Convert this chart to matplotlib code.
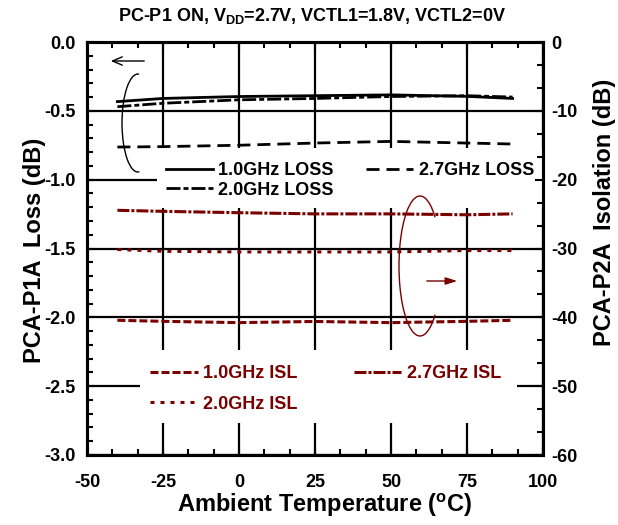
import matplotlib
matplotlib.use("Agg")
import matplotlib.pyplot as plt
from matplotlib.ticker import AutoMinorLocator, FormatStrFormatter
from matplotlib.patches import Rectangle, Arc

plt.rcParams['font.family'] = ['Liberation Sans', 'DejaVu Sans']
plt.rcParams['font.weight'] = 'bold'
plt.rcParams['mathtext.fontset'] = 'custom'
plt.rcParams['mathtext.rm'] = 'Liberation Sans:bold'
plt.rcParams['mathtext.bf'] = 'Liberation Sans:bold'
plt.rcParams['mathtext.it'] = 'Liberation Sans:bold'
plt.rcParams['mathtext.default'] = 'bf'
plt.rcParams['axes.unicode_minus'] = False
plt.rcParams['lines.scale_dashes'] = False

# ---- data ----
temps = [-40, -25, 0, 25, 50, 75, 90]
loss_1g0 = [-0.433, -0.41, -0.396, -0.39, -0.384, -0.395, -0.41]
loss_2g0 = [-0.47, -0.445, -0.42, -0.41, -0.396, -0.39, -0.40]
loss_2g7 = [-0.763, -0.76, -0.75, -0.734, -0.722, -0.734, -0.741]
isl_1g0 = [-40.43, -40.58, -40.77, -40.6, -40.77, -40.58, -40.43]
isl_2g0 = [-30.15, -30.4, -30.5, -30.5, -30.5, -30.3, -30.3]
isl_2g7 = [-24.45, -24.6, -24.8, -24.97, -24.97, -25.1, -24.97]

xticks = [-50, -25, 0, 25, 50, 75, 100]
yticks_left = [0.0, -0.5, -1.0, -1.5, -2.0, -2.5, -3.0]
yticks_right = [0, -10, -20, -30, -40, -50, -60]

RED = '#7a0000'
PX = 0.72  # px -> pt

W, H = 618, 525
fig = plt.figure(figsize=(W / 100, H / 100), dpi=100)
L, R, T, B = 87, 543, 42, 455
ax = fig.add_axes([L / W, 1 - B / H, (R - L) / W, (B - T) / H])
ax2 = ax.twinx()

ax.set_xlim(-50, 100)
ax.set_ylim(-3, 0)
ax2.set_ylim(-60, 0)

ax.set_axisbelow(True)
ax.set_xticks(xticks)
ax.set_yticks(yticks_left)
ax2.set_yticks(yticks_right)
ax.xaxis.set_minor_locator(AutoMinorLocator(3))
ax.yaxis.set_minor_locator(AutoMinorLocator(5))
ax2.yaxis.set_minor_locator(AutoMinorLocator(3))
ax.yaxis.set_major_formatter(FormatStrFormatter('%.1f'))
ax2.yaxis.set_major_formatter(FormatStrFormatter('%d'))

ax.grid(True, which='major', color='black', lw=1.6)
ax.tick_params(which='both', direction='in', top=True, right=False, width=1.5,
               labelsize=13)
ax.tick_params(which='major', length=6)
ax.tick_params(which='minor', length=4)
ax.tick_params(axis='x', pad=14)
ax.tick_params(axis='y', pad=8)
ax2.tick_params(which='both', direction='in', width=1.5, labelsize=13, pad=6)
ax2.tick_params(which='major', length=6)
ax2.tick_params(which='minor', length=4)
for a in (ax, ax2):
    for s in a.spines.values():
        s.set_linewidth(2.2)

# white boxes behind legends (hide grid)
ax.add_patch(Rectangle((0.1535, 0.598), 0.846, 0.145, transform=ax.transAxes,
                       facecolor='white', edgecolor='none', zorder=1))
ax.add_patch(Rectangle((0.116, 0.0775), 0.827, 0.177, transform=ax.transAxes,
                       facecolor='white', edgecolor='none', zorder=1))

# loss lines
l1, = ax.plot(temps, loss_1g0, color='black', lw=2.0, zorder=2,
              label='1.0GHz LOSS')
l2, = ax.plot(temps, loss_2g0, color='black', lw=2.0, zorder=2,
              dashes=[14 * PX, 3 * PX, 5 * PX, 3 * PX], label='2.0GHz LOSS')
l3, = ax.plot(temps, loss_2g7, color='black', lw=2.0, zorder=2,
              dashes=[13 * PX, 7 * PX], label='2.7GHz LOSS')

# isolation lines
i1, = ax2.plot(temps, isl_1g0, color=RED, lw=2.2,
               dashes=[8 * PX, 3 * PX], label='1.0GHz ISL')
i2, = ax2.plot(temps, isl_2g0, color=RED, lw=2.2,
               dashes=[4 * PX, 6 * PX], label='2.0GHz ISL')
i3, = ax2.plot(temps, isl_2g7, color=RED, lw=2.2,
               dashes=[12 * PX, 2 * PX, 3 * PX, 2 * PX], label='2.7GHz ISL')

leg1 = ax.legend(handles=[l1, l2, l3], ncol=2, frameon=False, fontsize=13,
                 loc='upper left', bbox_to_anchor=(166 / W, 1 - 162 / H),
                 bbox_transform=fig.transFigure, borderpad=0, borderaxespad=0,
                 handlelength=2.6, handletextpad=0.3, columnspacing=1.8,
                 labelspacing=0.15)
leg1.set_zorder(5)
leg2 = ax2.legend(handles=[i1, i2, i3], ncol=2, frameon=False, fontsize=13,
                  loc='upper left', bbox_to_anchor=(150 / W, 1 - 365 / H),
                  bbox_transform=fig.transFigure, borderpad=0, borderaxespad=0,
                  handlelength=2.65, handletextpad=0.3, columnspacing=3.1,
                  labelspacing=0.75)
for t in leg2.get_texts():
    t.set_color(RED)

# annotations: arrows and loops
def dx(px):
    return -50 + (px - L) * 150 / (R - L)

def dyl(py):
    return -(py - T) * 3 / (B - T)

def dyr(py):
    return -(py - T) * 60 / (B - T)

ax.annotate('', xy=(dx(108), dyl(61)), xytext=(dx(147), dyl(61)),
            arrowprops=dict(arrowstyle='->,head_length=0.7,head_width=0.3',
                            color='black', lw=1.0))
ax.add_patch(Arc((dx(138), dyl(123)), 32 * 150 / (R - L), 98 * 3 / (B - T),
                 theta1=45, theta2=322, color='black', lw=1.0, zorder=3))
ax2.annotate('', xy=(dx(460), dyr(281)), xytext=(dx(424), dyr(281)),
             arrowprops=dict(arrowstyle='-|>,head_length=0.7,head_width=0.22',
                             color=RED, lw=1.0))
ax2.add_patch(Arc((dx(420), dyr(266)), 42 * 150 / (R - L), 140 * 60 / (B - T),
                  theta1=55, theta2=305, color=RED, lw=1.0, zorder=3))

# texts
fig.text(312 / W, 1 - 16 / H,
         r'PC-P1 ON, V$_{\mathbf{DD}}$=2.7V, VCTL1=1.8V, VCTL2=0V',
         ha='center', va='center', fontsize=13, fontweight='bold')
fig.text(325 / W, 1 - 505 / H, r'Ambient Temperature ($^{\mathbf{o}}$C)',
         ha='center', va='center', fontsize=17, fontweight='bold')
fig.text(35 / W, 1 - 250 / H, 'PCA-P1A  Loss (dB)', rotation=90,
         ha='center', va='center', fontsize=17, fontweight='bold')
fig.text(605 / W, 1 - 212 / H, 'PCA-P2A  Isolation (dB)', rotation=90,
         ha='center', va='center', fontsize=17, fontweight='bold')

fig.savefig('out.png', dpi=100)
